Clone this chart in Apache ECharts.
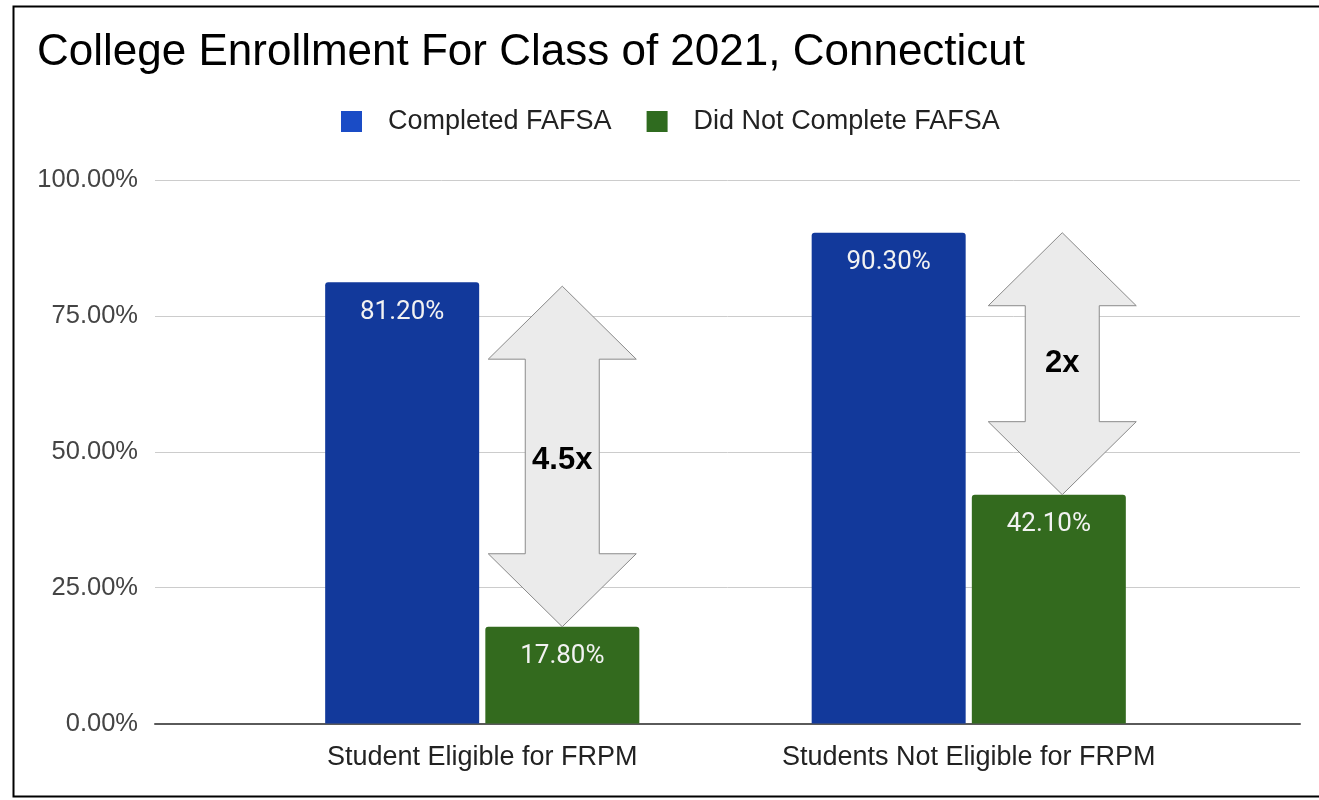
<!DOCTYPE html>
<html>
<head>
<meta charset="utf-8">
<script src="https://cdn.jsdelivr.net/npm/echarts@6/dist/echarts.min.js"></script>
<style>
html,body{margin:0;padding:0;background:#fff;}
#chart{width:1319px;height:800px;}
</style>
</head>
<body>
<div id="chart"></div>
<script>
var categories = ['Student Eligible for FRPM', 'Students Not Eligible for FRPM'];
var seriesNames = ['Completed FAFSA', 'Did Not Complete FAFSA'];
var completed = [81.2, 90.3];
var notCompleted = [17.8, 42.1];
var ratioLabels = ['4.5x', '2x'];
var yTicks = [0, 25, 50, 75, 100];

var FONT = '"Liberation Sans", Arial, sans-serif';
var arrowOffsets = [80, 93.5];

var arrowData = categories.map(function (c, i) {
  return [i, completed[i], notCompleted[i]];
});

function renderArrow(params, api) {
  var idx = params.dataIndex;
  var p1 = api.coord([api.value(0), api.value(1)]);
  var p2 = api.coord([api.value(0), api.value(2)]);
  var cx = p1[0] + arrowOffsets[idx];
  var top = p1[1] + (idx === 0 ? 4 : 0), bot = p2[1];
  var hw = 74, sw = 37, hh = 73;
  return {
    type: 'group',
    children: [
      {
        type: 'polygon',
        shape: {points: [
          [cx, top], [cx + hw, top + hh], [cx + sw, top + hh], [cx + sw, bot - hh],
          [cx + hw, bot - hh], [cx, bot], [cx - hw, bot - hh], [cx - sw, bot - hh],
          [cx - sw, top + hh], [cx - hw, top + hh]
        ]},
        style: {fill: '#ebebeb', stroke: '#8a8a8a', lineWidth: 1}
      },
      {
        type: 'text',
        x: cx, y: (top + bot) / 2 + (idx === 0 ? 4 : 0),
        style: {
          text: ratioLabels[idx], font: 'bold 31px ' + FONT,
          fill: '#000', align: 'center', verticalAlign: 'middle'
        }
      }
    ]
  };
}

var chart = echarts.init(document.getElementById('chart'), null, {renderer: 'canvas'});

var labelCfg = {
  show: true, position: 'insideTop', distance: 17,
  fontFamily: 'Roboto, ' + FONT, fontSize: 26, color: '#f2f2f2',
  formatter: function (p) { return p.value.toFixed(2) + '%'; }
};

var option = {
  backgroundColor: '#ffffff',
  animation: false,
  title: {
    text: 'College Enrollment For Class of 2021, Connecticut',
    left: 32, top: 26,
    textStyle: {fontFamily: FONT, fontSize: 44, fontWeight: 'normal', color: '#000'}
  },
  legend: {
    left: 336, top: 103,
    itemWidth: 21, itemHeight: 21, itemGap: 35,
    icon: 'rect',
    textStyle: {fontFamily: FONT, fontSize: 27, color: '#222', padding: [0, 0, 0, 21]},
    data: [
      {name: seriesNames[0], itemStyle: {color: '#1a4cc6'}},
      {name: seriesNames[1], itemStyle: {color: '#2f6b1f'}}
    ]
  },
  grid: [
    {left: 239, right: 107, top: 180, bottom: 76.5},
    {left: 155, right: 19, top: 180, bottom: 76.5}
  ],
  xAxis: [
    {
      type: 'category', gridIndex: 0, data: categories,
      axisLine: {show: false}, axisTick: {show: false},
      axisLabel: {fontFamily: FONT, fontSize: 27, color: '#222', margin: 21}
    },
    {
      type: 'value', gridIndex: 1, min: 0, max: 1,
      axisLine: {show: true, lineStyle: {color: '#5a5a5a', width: 2}},
      axisTick: {show: false}, axisLabel: {show: false}, splitLine: {show: false}
    }
  ],
  yAxis: [
    {
      type: 'value', gridIndex: 0, min: 0, max: 100, interval: 25,
      axisLine: {show: false}, axisTick: {show: false},
      axisLabel: {show: false}, splitLine: {show: false}
    },
    {
      type: 'value', gridIndex: 1, min: yTicks[0], max: yTicks[yTicks.length - 1], interval: 25,
      axisLine: {show: false}, axisTick: {show: false},
      axisLabel: {
        fontFamily: FONT, fontSize: 25.5, color: '#444', margin: 17,
        formatter: function (v) { return v.toFixed(2) + '%'; }
      },
      splitLine: {show: true, lineStyle: {color: '#cccccc', width: 1}}
    }
  ],
  graphic: [{
    type: 'rect', z: 100,
    shape: {x: 13.5, y: 6.5, width: 1320, height: 790},
    style: {fill: 'none', stroke: '#000', lineWidth: 2}
  }],
  series: [
    {
      name: seriesNames[0], type: 'bar', xAxisIndex: 0, yAxisIndex: 0,
      data: completed, barWidth: 154, barGap: '4%',
      itemStyle: {color: '#12399b', borderRadius: [3, 3, 0, 0]},
      label: labelCfg
    },
    {
      name: seriesNames[1], type: 'bar', xAxisIndex: 0, yAxisIndex: 0,
      data: notCompleted, barWidth: 154, barGap: '4%',
      itemStyle: {color: '#336a1e', borderRadius: [3, 3, 0, 0]},
      label: labelCfg
    },
    {
      name: 'ratio', type: 'custom', xAxisIndex: 0, yAxisIndex: 0,
      data: arrowData, renderItem: renderArrow, z: 10, silent: true
    }
  ]
};
chart.setOption(option);
</script>
</body>
</html>
